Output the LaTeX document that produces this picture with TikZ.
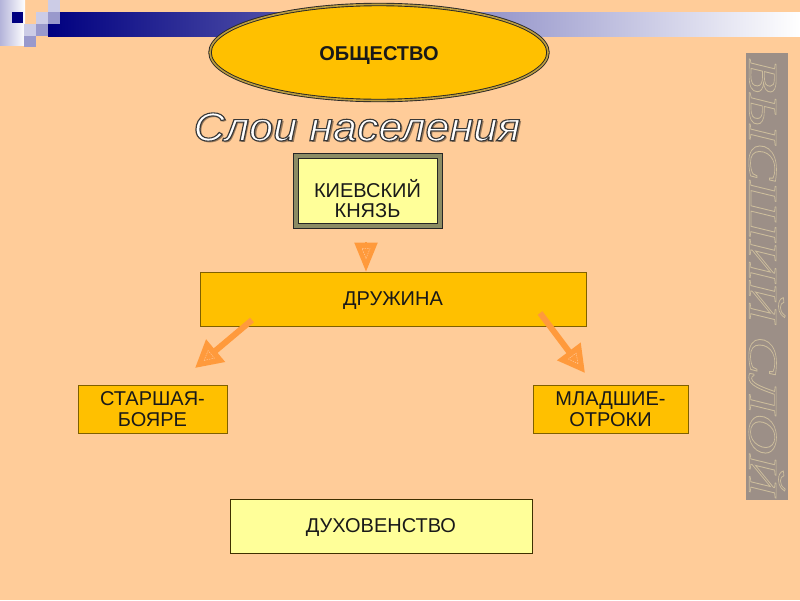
\documentclass[tikz,border=0pt]{standalone}
\usepackage{fontspec}
\setmainfont{Liberation Sans}
\newfontfamily\vfont{Liberation Serif}
\usetikzlibrary{shapes.geometric,arrows.meta}
\definecolor{bg}{HTML}{FFCC99}
\definecolor{navy}{HTML}{000080}
\definecolor{lavL}{HTML}{CCCCE6}
\definecolor{lavM}{HTML}{9999CC}
\definecolor{lavS}{HTML}{B4B4DA}
\definecolor{gold}{HTML}{FFC000}
\definecolor{ly}{HTML}{FFFF99}
\definecolor{band}{HTML}{8C8C64}
\definecolor{orng}{HTML}{FF9A3C}
\definecolor{orngL}{HTML}{FFC896}
\definecolor{stripc}{HTML}{9C8F87}
\definecolor{bordc}{HTML}{7F6000}
\newcommand{\strokedtext}[4]{\special{pdf:literal #1 Tr #2 w #3 RG}#4\special{pdf:literal 0 Tr}}
\begin{document}
\begin{tikzpicture}[x=1pt,y=-1pt,
  box/.style={draw=bordc, line width=0.8pt, fill=gold, inner sep=0pt, text depth=0pt,
    font=\fontsize{20pt}{21.5pt}\selectfont, align=center, text=black!90},
  arr/.style={draw=orng, line width=6pt, -{Triangle[width=28pt,length=27pt]}},
  sltext/.style={inner sep=0pt, font=\fontsize{40pt}{44pt}\selectfont\itshape},
  vtext/.style={inner sep=0pt, rotate=-90, font=\fontsize{44pt}{48pt}\vfont\itshape},
  inner/.style={draw=orngL, line width=0.5pt, dash pattern=on 1.5pt off 1pt}]
\useasboundingbox (0,0) rectangle (800,600);
\fill[bg] (0,0) rectangle (800,600);
% decoration top left
\shade[left color=lavS, right color=white] (0,0) rectangle (25,45);
\shade[left color=navy, right color=white] (48,12) rectangle (800,36);
\fill[navy] (12,12) rectangle (23,23);
\fill[lavL] (24,24) rectangle (36,36);
\fill[lavM] (24,36) rectangle (36,47);
\fill[lavL] (36,12) rectangle (48,24);
\fill[lavM] (36,24) rectangle (48,36);
\fill[lavL] (48,0) rectangle (60,12);
\fill[lavM] (48,12) rectangle (60,24);
% ellipse
\node[ellipse, fill=gold, draw=black!85, line width=0.9pt, double=black!35!gold!75!white, double distance=1.6pt,
  minimum width=338pt, minimum height=96pt, inner sep=0pt, text depth=0pt,
  font=\fontsize{20pt}{22pt}\selectfont\bfseries, text=black!90] (e) at (379,52.5) {\raisebox{-2pt}{ОБЩЕСТВО}};
% title
\node[sltext, text=black!40!bg] (sh) at (357+2,127+2) {\scalebox{1.08}[1]{Слои населения}};
\node[sltext, text=white] (sl) at (357,127) {\scalebox{1.08}[1]{\strokedtext{2}{1.1}{0.22 0.22 0.22}{Слои населения}}};
% boxes
\node[box, fill=ly, minimum width=144pt, minimum height=70pt, draw=black!85, line width=1pt,
  double=band, double distance=4pt] (k) at (367.5,190.5) {\raisebox{-5pt}{\begin{tabular}{@{}c@{}}КИЕВСКИЙ\\[-1.5pt]КНЯЗЬ\end{tabular}}};
\node[box, minimum width=386pt, minimum height=54pt] (d) at (393,299) {ДРУЖИНА};
\node[box, minimum width=149pt, minimum height=48pt] (s) at (152.5,409) {СТАРШАЯ-\\БОЯРЕ};
\node[box, minimum width=155pt, minimum height=48pt] (m) at (610.5,409) {МЛАДШИЕ-\\ОТРОКИ};
\node[box, fill=ly, draw=black!50!bordc, minimum width=302pt, minimum height=54pt] (du) at (381,526) {ДУХОВЕНСТВО};
% arrows
\draw[draw=orng, line width=2pt, -{Triangle[width=23pt,length=29pt]}, shorten <=16pt] ([xshift=-1.5pt]k.south) -- ([xshift=-1.5pt]k.south |- d.north);
\coordinate (l1) at (252,320);
\coordinate (l2) at (195,368);
\coordinate (r1) at (540,313);
\coordinate (r2) at (585,373);
\draw[arr] (l1) -- (l2);
\draw[arr] (r1) -- (r2);
\draw[inner] (362,248.5) -- (370,248.5) -- (366,258.5) -- cycle;
\draw[inner] (204,360.5) -- (214.4,358.1) -- (208.1,350.6) -- cycle;
\draw[inner] (578,363.6) -- (576.2,353.1) -- (568.4,359) -- cycle;
% vertical strip
\fill[stripc] (746,53) rectangle (788,500);
\node[vtext, text=stripc] (vt) at (767,277) {\resizebox{437pt}{36pt}{\strokedtext{1}{0.7}{0.80 0.74 0.61}{ВЫСШИЙ СЛОЙ}}};
\end{tikzpicture}
\end{document}
